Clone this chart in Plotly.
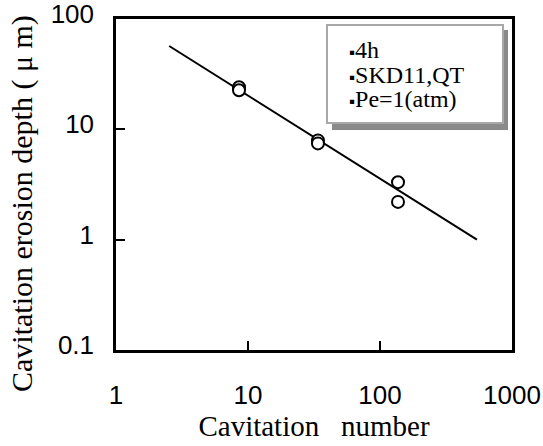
import plotly.graph_objects as go

# Data
cav_number = [8.55, 8.55, 33.9, 33.9, 137, 137]
erosion_depth = [24.1, 22.6, 7.94, 7.46, 3.32, 2.2]
fit_x = [2.53, 543]
fit_y = [57, 1.0]
x_ticks = [1, 10, 100, 1000]
y_ticks = [0.1, 1, 10, 100]
legend_lines = ["4h", "SKD11,QT", "Pe=1(atm)"]

W, H = 543, 446
L, R, T, B = 116, 31, 19, 96
pw, ph = W - L - R, H - T - B

def px(x):
    return (x - L) / pw

def py(y):
    return (H - B - y) / ph

fig = go.Figure()
fig.add_trace(go.Scatter(x=fit_x, y=fit_y, mode="lines",
                         line=dict(color="black", width=2), showlegend=False))
fig.add_trace(go.Scatter(x=cav_number, y=erosion_depth, mode="markers",
                         marker=dict(symbol="circle", size=12, color="white",
                                     line=dict(color="black", width=2)),
                         showlegend=False))

serif = "Liberation Serif, Times New Roman, serif"
sans = "Liberation Sans, Arial, sans-serif"

fig.update_xaxes(type="log", range=[0, 3.0005], tickvals=x_ticks,
                 ticktext=[str(v) for v in x_ticks], automargin=False,
                 ticks="inside", ticklen=9, tickwidth=2, tickcolor="black",
                 showline=True, linecolor="black", linewidth=2.5, mirror=True,
                 showgrid=False, zeroline=False,
                 tickfont=dict(family=sans, size=26, color="black"),
                 ticklabelstandoff=20,
                 title=dict(text="Cavitation\u00a0\u00a0\u00a0number",
                            font=dict(family=serif, size=29, color="black"),
                            standoff=3))
fig.update_yaxes(type="log", range=[-1.0005, 2.0005], tickvals=y_ticks,
                 ticktext=[str(v) for v in y_ticks], automargin=False,
                 ticks="inside", ticklen=9, tickwidth=2, tickcolor="black",
                 showline=True, linecolor="black", linewidth=2.5, mirror=True,
                 showgrid=False, zeroline=False,
                 tickfont=dict(family=sans, size=26, color="black"),
                 ticklabelstandoff=14, ticklabelshift=-5,
                 ticklabeloverflow="allow")

# y-axis title as rotated text (centered lower than the plot middle, as in the reference)
fig.add_annotation(xref="paper", yref="paper", x=px(22), y=py(204),
                   xanchor="center", yanchor="middle", showarrow=False,
                   textangle=-90, text="Cavitation erosion depth ( \u03bc m)",
                   font=dict(family=serif, size=30, color="black"))

# legend-like box with shadow
fig.add_shape(type="rect", xref="paper", yref="paper",
              x0=px(332), x1=px(508), y0=py(130), y1=py(30),
              fillcolor="#8a8a8a", line=dict(width=0), layer="above")
fig.add_shape(type="rect", xref="paper", yref="paper",
              x0=px(327), x1=px(503), y0=py(123), y1=py(25),
              fillcolor="white", line=dict(color="#a8a8a8", width=2), layer="above")

for i, (txt, yy) in enumerate(zip(legend_lines, [50, 75, 99])):
    fig.add_annotation(xref="paper", yref="paper", x=px(347), y=py(yy),
                       xanchor="left", yanchor="middle", showarrow=False,
                       text="<span style='font-size:17px'>\u25aa</span>" + txt,
                       font=dict(family=serif, size=24, color="black"))

fig.update_layout(width=W, height=H, margin=dict(l=L, r=R, t=T, b=B),
                  paper_bgcolor="white", plot_bgcolor="white")

fig.write_html("out.html")
